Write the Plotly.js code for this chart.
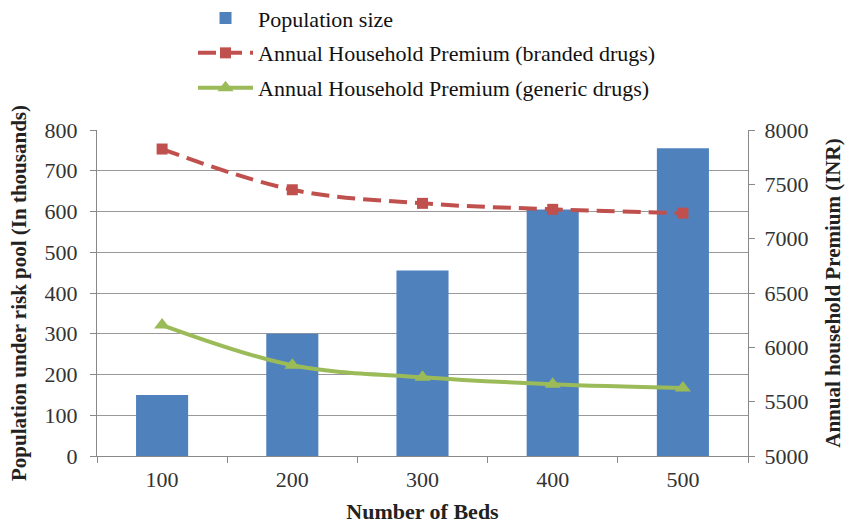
<!DOCTYPE html>
<html><head><meta charset="utf-8">
<script src="https://cdn.plot.ly/plotly-3.0.1.min.js"></script>
<style>html,body{margin:0;padding:0;background:#fff}#chart{width:850px;height:526px}</style>
</head><body><div id="chart"></div>
<script>
const beds = ['100','200','300','400','500'];
const population = [150, 300, 455, 605, 755];
const brandedPremium = [7825, 7450, 7325, 7270, 7235];
const genericPremium = [6205, 5835, 5725, 5660, 5625];

const font = "Liberation Serif";
const legendFont = {family:font, size:22, color:'#111'};
const traces = [
  {type:'bar', x:beds, y:population, name:'Population size', marker:{color:'#4f81bd'}, width:0.4, legend:'legend'},
  {type:'scatter', mode:'lines+markers', x:beds, y:brandedPremium, yaxis:'y2', name:'Annual Household Premium (branded drugs)',
   line:{color:'#c0504d', width:4, dash:'18px,8px', shape:'spline'}, marker:{symbol:'square', size:11, color:'#c0504d'}, legend:'legend2'},
  {type:'scatter', mode:'lines+markers', x:beds, y:genericPremium, yaxis:'y2', name:'Annual Household Premium (generic drugs)',
   line:{color:'#9bbb59', width:4, shape:'spline'}, marker:{symbol:'triangle-up', size:14, color:'#9bbb59'}, legend:'legend3'}
];
const lx = 0.1475;
const iw = 55;
const layout = {
  width:850, height:526,
  margin:{l:97, r:102, t:130, b:70, autoexpand:false},
  paper_bgcolor:'#fff', plot_bgcolor:'#fff',
  font:{family:font, size:22, color:'#333'},
  showlegend:true,
  legend:{x:lx, y:1.343, xanchor:'left', yanchor:'middle', font:legendFont, bgcolor:'rgba(0,0,0,0)', itemwidth:iw},
  legend2:{x:lx, y:1.236, xanchor:'left', yanchor:'middle', font:legendFont, bgcolor:'rgba(0,0,0,0)', itemwidth:iw},
  legend3:{x:lx, y:1.129, xanchor:'left', yanchor:'middle', font:legendFont, bgcolor:'rgba(0,0,0,0)', itemwidth:iw},
  xaxis:{type:'category', tickson:'boundaries', ticks:'outside', ticklen:6, tickcolor:'#888',
    showline:true, linecolor:'#888', linewidth:1, showgrid:false, ticklabelstandoff:4,
    tickfont:{family:font, size:22, color:'#333'},
    title:{text:'<b>Number of Beds</b>', font:{family:font, size:22, color:'#222'}, standoff:12}},
  yaxis:{range:[0,800], dtick:100, ticks:'outside', ticklen:6, tickcolor:'#888', ticklabelstandoff:8,
    showline:true, linecolor:'#888', gridcolor:'#999', gridwidth:1, zeroline:false,
    tickfont:{family:font, size:22, color:'#333'},
    title:{text:'<b>Population under risk pool (In thousands)</b>', font:{family:font, size:21, color:'#222'}, standoff:12}},
  yaxis2:{range:[5000,8000], dtick:500, overlaying:'y', side:'right', ticks:'outside', ticklen:6, tickcolor:'#888', ticklabelstandoff:5,
    showline:true, linecolor:'#888', showgrid:false, zeroline:false,
    tickfont:{family:font, size:22, color:'#333'},
    title:{text:'<b>Annual household Premium (INR)</b>', font:{family:font, size:21, color:'#222'}, standoff:17}}
};
Plotly.newPlot('chart', traces, layout, {displayModeBar:false, staticPlot:true});
</script></body></html>
